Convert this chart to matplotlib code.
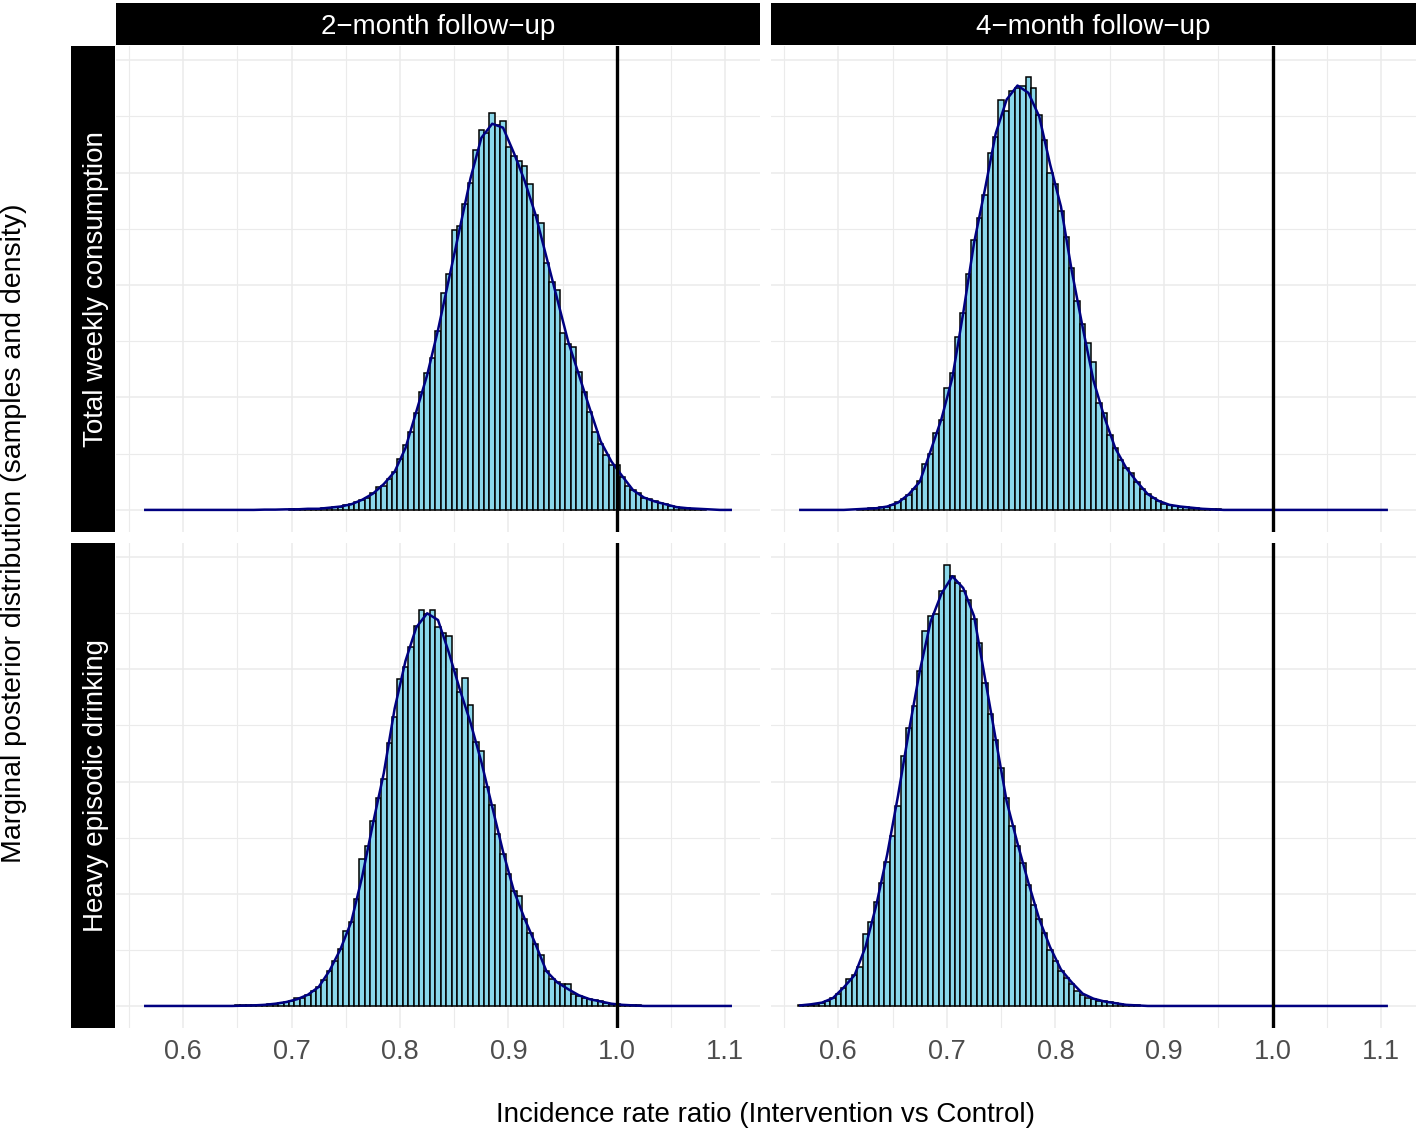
import matplotlib.pyplot as plt
import numpy as np

plt.rcParams["font.family"] = ["Liberation Sans", "DejaVu Sans"]

W, H = 1424, 1131
BIN_WIDTH = 0.005
FILL = "#8AD7EA"
CURVE_COLOR = "#000080"
GRID_COLOR = "#EBEBEB"

COLUMNS = ["2\u2212month follow\u2212up", "4\u2212month follow\u2212up"]
ROWS = ["Total weekly consumption", "Heavy episodic drinking"]
X_TICKS = [0.6, 0.7, 0.8, 0.9, 1.0, 1.1]
X_MINOR = [0.55, 0.65, 0.75, 0.85, 0.95, 1.05]
Y_TICKS = [0, 2, 4, 6, 8]
Y_MINOR = [1, 3, 5, 7]
X_RANGE = (0.565, 1.105)
NULL_VALUE = 1.0

# histogram heights (density scale), consecutive bins starting at *_START
TL_START = 0.700
TL_BARS = [0.01, 0.01, 0.01, 0.02, 0.02, 0.02, 0.03, 0.04, 0.05, 0.06,
           0.08, 0.10, 0.14, 0.18, 0.22, 0.30, 0.40, 0.42, 0.55, 0.68,
           0.90, 1.15, 1.39, 1.72, 2.10, 2.43, 2.70, 3.18, 3.86, 4.20,
           4.98, 5.05, 5.45, 5.81, 6.40, 6.76, 6.70, 7.06, 6.85, 6.91,
           6.45, 6.30, 6.20, 6.11, 5.79, 5.25, 5.10, 4.40, 4.05, 3.91,
           3.15, 2.95, 2.90, 2.45, 2.10, 1.75, 1.39, 1.18, 0.98, 0.80,
           0.80, 0.59, 0.42, 0.36, 0.30, 0.21, 0.19, 0.15, 0.12, 0.11,
           0.07, 0.05, 0.04, 0.03, 0.02, 0.01, 0.01]

TR_START = 0.620
TR_BARS = [0.01, 0.02, 0.03, 0.03, 0.05, 0.06, 0.09, 0.14, 0.20, 0.26,
           0.38, 0.52, 0.82, 1.00, 1.36, 1.60, 2.16, 2.43, 3.08, 3.50,
           4.20, 4.80, 5.20, 5.60, 6.35, 6.64, 7.30, 7.10, 7.45, 7.50,
           7.55, 7.71, 7.50, 7.03, 6.58, 6.00, 5.80, 5.31, 4.85, 4.30,
           3.72, 3.30, 2.97, 2.64, 1.90, 1.72, 1.33, 1.10, 0.88, 0.75,
           0.66, 0.50, 0.37, 0.28, 0.22, 0.16, 0.10, 0.08, 0.07, 0.06,
           0.05, 0.04, 0.03, 0.02, 0.02, 0.01, 0.01]

BL_START = 0.650
BL_BARS = [0.01, 0.01, 0.01, 0.01, 0.02, 0.02, 0.03, 0.04, 0.05, 0.07,
           0.09, 0.14, 0.15, 0.20, 0.26, 0.34, 0.46, 0.63, 0.80, 1.01,
           1.34, 1.50, 1.90, 2.62, 2.85, 3.30, 3.70, 4.05, 4.69, 5.15,
           5.82, 6.05, 6.40, 6.77, 7.06, 6.98, 7.06, 6.75, 6.65, 6.59,
           6.00, 5.60, 5.85, 5.37, 4.70, 4.54, 3.90, 3.59, 3.06, 2.70,
           2.35, 2.05, 1.96, 1.55, 1.30, 1.10, 0.90, 0.62, 0.48, 0.42,
           0.39, 0.39, 0.22, 0.18, 0.15, 0.12, 0.10, 0.08, 0.06, 0.04,
           0.03, 0.02, 0.02, 0.01, 0.01]

BR_START = 0.565
BR_BARS = [0.01, 0.02, 0.02, 0.04, 0.06, 0.08, 0.15, 0.22, 0.32, 0.48,
           0.55, 0.70, 1.28, 1.50, 1.85, 2.20, 2.56, 3.03, 3.56, 4.45,
           4.96, 5.34, 5.97, 6.68, 6.95, 6.98, 7.39, 7.86, 7.66, 7.54,
           7.40, 7.24, 6.90, 6.47, 5.75, 5.20, 4.75, 4.25, 3.70, 3.20,
           2.85, 2.55, 2.15, 1.80, 1.55, 1.30, 1.00, 0.80, 0.63, 0.50,
           0.40, 0.26, 0.20, 0.15, 0.12, 0.09, 0.08, 0.07, 0.05, 0.03,
           0.02, 0.01, 0.01]

# density curve, sampled every 0.01 from 0.565 to 1.105
CURVE_X = np.round(np.arange(0.565, 1.1051, 0.01), 3)
TL_CURVE = [0, 0, 0, 0, 0, 0, 0, 0, 0, 0,
            0, 0.005, 0.005, 0.01, 0.01, 0.02, 0.02, 0.04, 0.06, 0.10,
            0.18, 0.29, 0.46, 0.68, 1.10, 1.75, 2.40, 3.20, 4.10, 5.00,
            5.90, 6.62, 6.87, 6.80, 6.35, 5.85, 5.25, 4.50, 3.75, 3.00,
            2.40, 1.80, 1.22, 0.86, 0.60, 0.35, 0.22, 0.15, 0.10, 0.05,
            0.03, 0.02, 0.01, 0, 0]
TR_CURVE = [0, 0, 0, 0, 0, 0.01, 0.02, 0.03, 0.06, 0.13,
            0.28, 0.50, 1.05, 1.62, 2.35, 3.50, 4.75, 5.70, 6.70, 7.30,
            7.55, 7.42, 7.00, 6.15, 5.40, 4.25, 3.25, 2.30, 1.65, 1.10,
            0.75, 0.50, 0.28, 0.16, 0.09, 0.06, 0.04, 0.02, 0.01, 0,
            0, 0, 0, 0, 0, 0, 0, 0, 0, 0,
            0, 0, 0, 0, 0]
BL_CURVE = [0, 0, 0, 0, 0, 0, 0, 0, 0, 0.005,
            0.01, 0.02, 0.04, 0.07, 0.12, 0.20, 0.34, 0.63, 1.01, 1.50,
            2.30, 3.25, 4.15, 5.30, 6.15, 6.75, 7.00, 6.88, 6.30, 5.65,
            5.05, 4.35, 3.55, 2.75, 2.05, 1.55, 1.10, 0.62, 0.42, 0.30,
            0.19, 0.12, 0.08, 0.04, 0.02, 0.01, 0, 0, 0, 0,
            0, 0, 0, 0, 0]
BR_CURVE = [0.01, 0.03, 0.06, 0.14, 0.33, 0.55, 1.05, 1.80, 2.70, 3.75,
            4.90, 5.97, 6.85, 7.35, 7.66, 7.45, 6.95, 5.85, 4.75, 3.65,
            2.90, 2.20, 1.55, 1.05, 0.65, 0.42, 0.22, 0.13, 0.08, 0.05,
            0.02, 0.01, 0, 0, 0, 0, 0, 0, 0, 0,
            0, 0, 0, 0, 0, 0, 0, 0, 0, 0,
            0, 0, 0, 0, 0]

PANELS = [
    (0, 0, TL_START, TL_BARS, TL_CURVE),
    (0, 1, TR_START, TR_BARS, TR_CURVE),
    (1, 0, BL_START, BL_BARS, BL_CURVE),
    (1, 1, BR_START, BR_BARS, BR_CURVE),
]


def rect(x0, y0, x1, y1):
    """Pixel box (top-left origin) to figure fraction."""
    return [x0 / W, 1 - y1 / H, (x1 - x0) / W, (y1 - y0) / H]


def strip_axes(box):
    sax = fig.add_axes(rect(*box))
    sax.set_facecolor("black")
    sax.set_xticks([])
    sax.set_yticks([])
    for s in sax.spines.values():
        s.set_visible(False)
    return sax


col_px = [(116, 760), (771, 1416)]
row_px = [(46, 532), (543, 1028)]

fig = plt.figure(figsize=(W / 100, H / 100), dpi=100)

y_max = max(max(b) for b in (TL_BARS, TR_BARS, BL_BARS, BR_BARS))
span = X_RANGE[1] - X_RANGE[0]
xlim = (X_RANGE[0] - 0.05 * span, X_RANGE[1] + 0.05 * span)
ylim = (-0.05 * y_max, 1.05 * y_max)

for r, c, start, bars, curve in PANELS:
    x0, x1 = col_px[c]
    y0, y1 = row_px[r]
    ax = fig.add_axes(rect(x0, y0, x1, y1))
    centers = start + BIN_WIDTH * np.arange(len(bars))
    ax.bar(centers, bars, width=BIN_WIDTH, color=FILL, edgecolor="black",
           linewidth=1.1, zorder=2)
    ax.plot(CURVE_X, curve, color=CURVE_COLOR, linewidth=1.8, zorder=3)
    ax.axvline(NULL_VALUE, color="black", linewidth=2.4, zorder=4)

    ax.set_xlim(*xlim)
    ax.set_ylim(*ylim)
    ax.set_xticks(X_TICKS)
    ax.set_xticks(X_MINOR, minor=True)
    ax.set_yticks(Y_TICKS)
    ax.set_yticks(Y_MINOR, minor=True)
    ax.grid(which="major", color=GRID_COLOR, linewidth=1.1)
    ax.grid(which="minor", color=GRID_COLOR, linewidth=0.8)
    ax.set_axisbelow(True)
    for s in ax.spines.values():
        s.set_visible(False)
    ax.tick_params(which="both", length=0)
    ax.set_yticklabels([])
    if r == 1:
        ax.set_xticklabels([f"{t:.1f}" for t in X_TICKS], fontsize=19.5,
                           color="#4D4D4D")
        ax.tick_params(axis="x", pad=8)
    else:
        ax.set_xticklabels([])

# column strips
for c, label in enumerate(COLUMNS):
    x0, x1 = col_px[c]
    sax = strip_axes((x0, 3, x1, 45))
    sax.text(0.5, 0.44, label, color="white", fontsize=20, ha="center",
             va="center", transform=sax.transAxes)

# row strips, placed on the left
for r, label in enumerate(ROWS):
    y0, y1 = row_px[r]
    sax = strip_axes((71, y0, 115, y1))
    sax.text(0.56, 0.5, label, color="white", fontsize=20, ha="center",
             va="center", rotation=90, transform=sax.transAxes)

fig.text(766 / W, 1 - 1115 / H, "Incidence rate ratio (Intervention vs Control)",
         fontsize=20, ha="center", va="center")
fig.text(14 / W, 1 - 533 / H,
         "Marginal posterior distribution (samples and density)",
         fontsize=20.5, ha="center", va="center", rotation=90)

fig.savefig("out.png", dpi=100)
